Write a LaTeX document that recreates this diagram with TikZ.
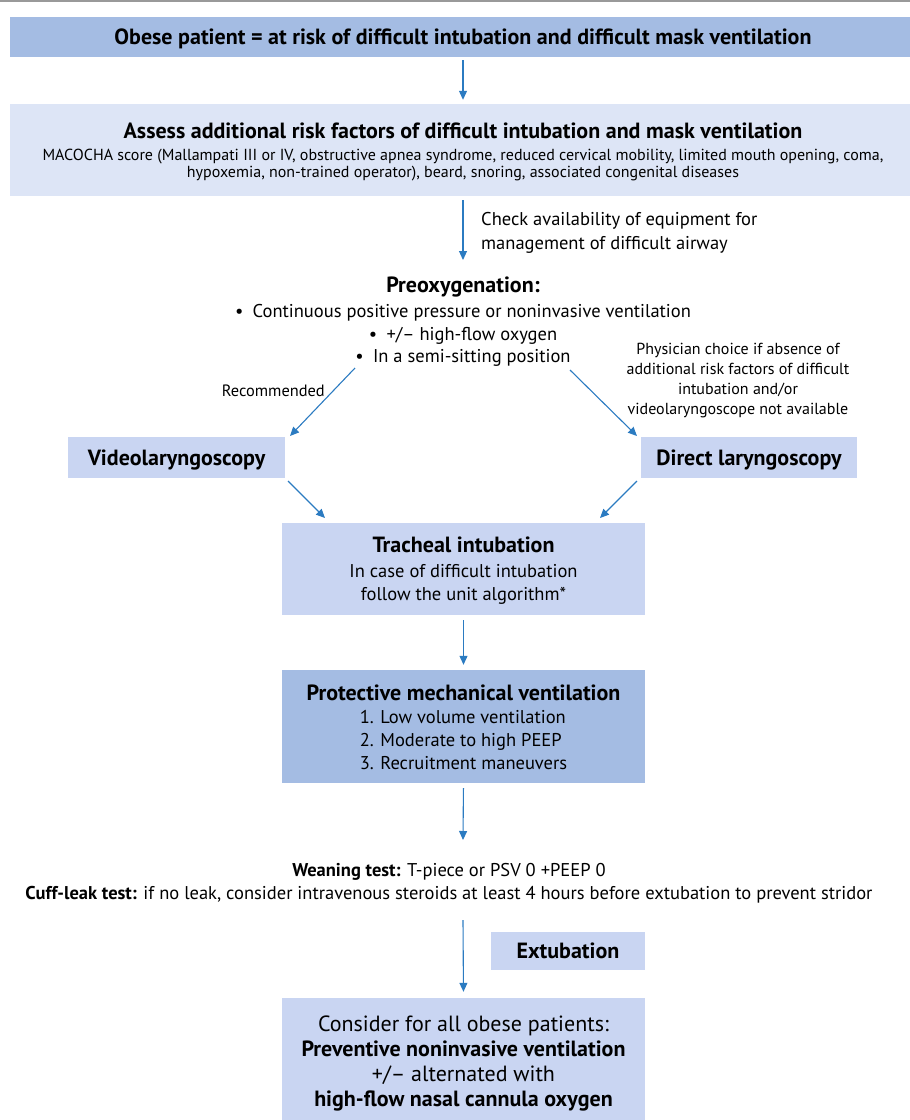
\documentclass[tikz,border=0pt]{standalone}
\usepackage{fontspec}
\setmainfont{PT Sans}
\usetikzlibrary{arrows.meta}

\definecolor{boxdark}{HTML}{A4BCE3}
\definecolor{boxlight}{HTML}{DDE5F6}
\definecolor{boxmid}{HTML}{C9D5F2}
\definecolor{arrowblue}{HTML}{2B7BC1}

\begin{document}
\begin{tikzpicture}[x=1pt,y=-1pt]

      \useasboundingbox (0,0) rectangle (910,1120);
      \draw[gray!80, line width=2.5pt] (0,1) -- (910,1);

      \begin{scope}[every node/.style={inner sep=0pt, align=center, font=\fontsize{18.5}{23}\selectfont}]
        \node[fill=boxdark, minimum width=906, minimum height=40, text depth=0pt] (obese) at (463,37)
          {\fontsize{22}{26}\selectfont\bfseries Obese patient = at risk of difficult intubation and difficult mask ventilation};
        \node[fill=boxlight, minimum width=906, minimum height=92, text depth=0pt, font=\fontsize{16}{17}\selectfont] (assess) at (463,150)
          {{\fontsize{22}{26}\selectfont\bfseries Assess additional risk factors of difficult intubation and mask ventilation}\\[5pt]
           MACOCHA score (Mallampati III or IV, obstructive apnea syndrome, reduced cervical mobility, limited mouth opening, coma,\\
           hypoxemia, non-trained operator), beard, snoring, associated congenital diseases};
        \node[align=left, anchor=west, font=\fontsize{18.5}{24}\selectfont] (check) at (481,233)
          {Check availability of equipment for\\ management of difficult airway};
        \node[font=\fontsize{18.5}{22.5}\selectfont] (preox) at (463,322)
          {{\fontsize{22}{26}\selectfont\bfseries Preoxygenation:}\\[2.5pt]
           \textbullet\enspace Continuous positive pressure or noninvasive ventilation\\
           \textbullet\enspace +/-- high-flow oxygen\\
           \textbullet\enspace In a semi-sitting position};
        \node[anchor=east, font=\fontsize{16.4}{17}\selectfont] (recom) at (325,391) {Recommended};
        \node[font=\fontsize{16}{20}\selectfont] (choice) at (738,381)
          {Physician choice if absence of\\ additional risk factors of difficult\\ intubation and/or\\ videolaryngoscope not available};
        \node[fill=boxmid, minimum width=217, minimum height=41, text depth=0pt, font=\fontsize{22}{26}\selectfont\bfseries] (video) at (176.5,457.5)
          {Videolaryngoscopy};
        \node[fill=boxmid, minimum width=216, minimum height=41, text depth=0pt, font=\fontsize{22}{26}\selectfont\bfseries] (direct) at (749,457.5)
          {Direct laryngoscopy};
        \node[fill=boxmid, minimum width=363, minimum height=92, text depth=0pt, font=\fontsize{18.5}{23}\selectfont] (trach) at (463.5,569)
          {{\fontsize{22}{26}\selectfont\bfseries Tracheal intubation}\\[2pt]
           In case of difficult intubation\\ follow the unit algorithm*};
        \node[fill=boxdark, minimum width=363, minimum height=113, text depth=22pt, font=\fontsize{18.5}{23}\selectfont] (protect) at (463.5,726.5)
          {{\fontsize{22}{26}\selectfont\bfseries Protective mechanical ventilation}\\[6pt]
           \begin{tabular}{@{}l@{}}1. Low volume ventilation\\ 2. Moderate to high PEEP\\ 3. Recruitment maneuvers\end{tabular}};
        \node[font=\fontsize{18.5}{23}\selectfont] (wean) at (449,883)
          {\textbf{Weaning test:} T-piece or PSV 0 +PEEP 0\\
           \textbf{Cuff-leak test:} if no leak, consider intravenous steroids at least 4 hours before extubation to prevent stridor};
        \node[fill=boxmid, minimum width=154, minimum height=38, text depth=0pt, font=\fontsize{22}{26}\selectfont\bfseries] (extub) at (568,951)
          {Extubation};
        \node[fill=boxmid, minimum width=363, minimum height=130, font=\fontsize{22}{25}\selectfont] (consider) at (463.5,1063)
          {Consider for all obese patients:\\
           \textbf{Preventive noninvasive ventilation}\\
           +/-- alternated with\\
           \textbf{high-flow nasal cannula oxygen}};
      \end{scope}

      \coordinate (pl) at (355,368);
      \coordinate (pr) at (570,370);
      \coordinate (vin) at (290,436);
      \coordinate (din) at (637,436);
      \coordinate (vout) at (288,481);
      \coordinate (dout) at (637,481);
      \coordinate (tinl) at (325,518);
      \coordinate (tinr) at (600,518);
      \coordinate (wtop) at (463,840);
      \coordinate (wbot) at (463,920);

      \begin{scope}[every edge/.style={draw, arrowblue, line width=1.1pt, -{Triangle[length=9pt,width=8pt]}}]
        \path (obese)  edge[shorten <=3pt, shorten >=4pt] (assess);
        \path (assess.south -| obese) edge[shorten <=4pt, shorten >=4pt] (463,264);
        \path (pl)   edge (vin);
        \path (pr)   edge (din);
        \path (vout) edge (tinl);
        \path (dout) edge (tinr);
        \path (trach)  edge[shorten <=5pt, shorten >=5pt] (protect);
        \path (protect.south) edge[shorten <=5pt] (wtop);
        \path (wbot) edge[shorten >=6pt] (consider.north);
      \end{scope}

    \end{tikzpicture}
\end{document}
